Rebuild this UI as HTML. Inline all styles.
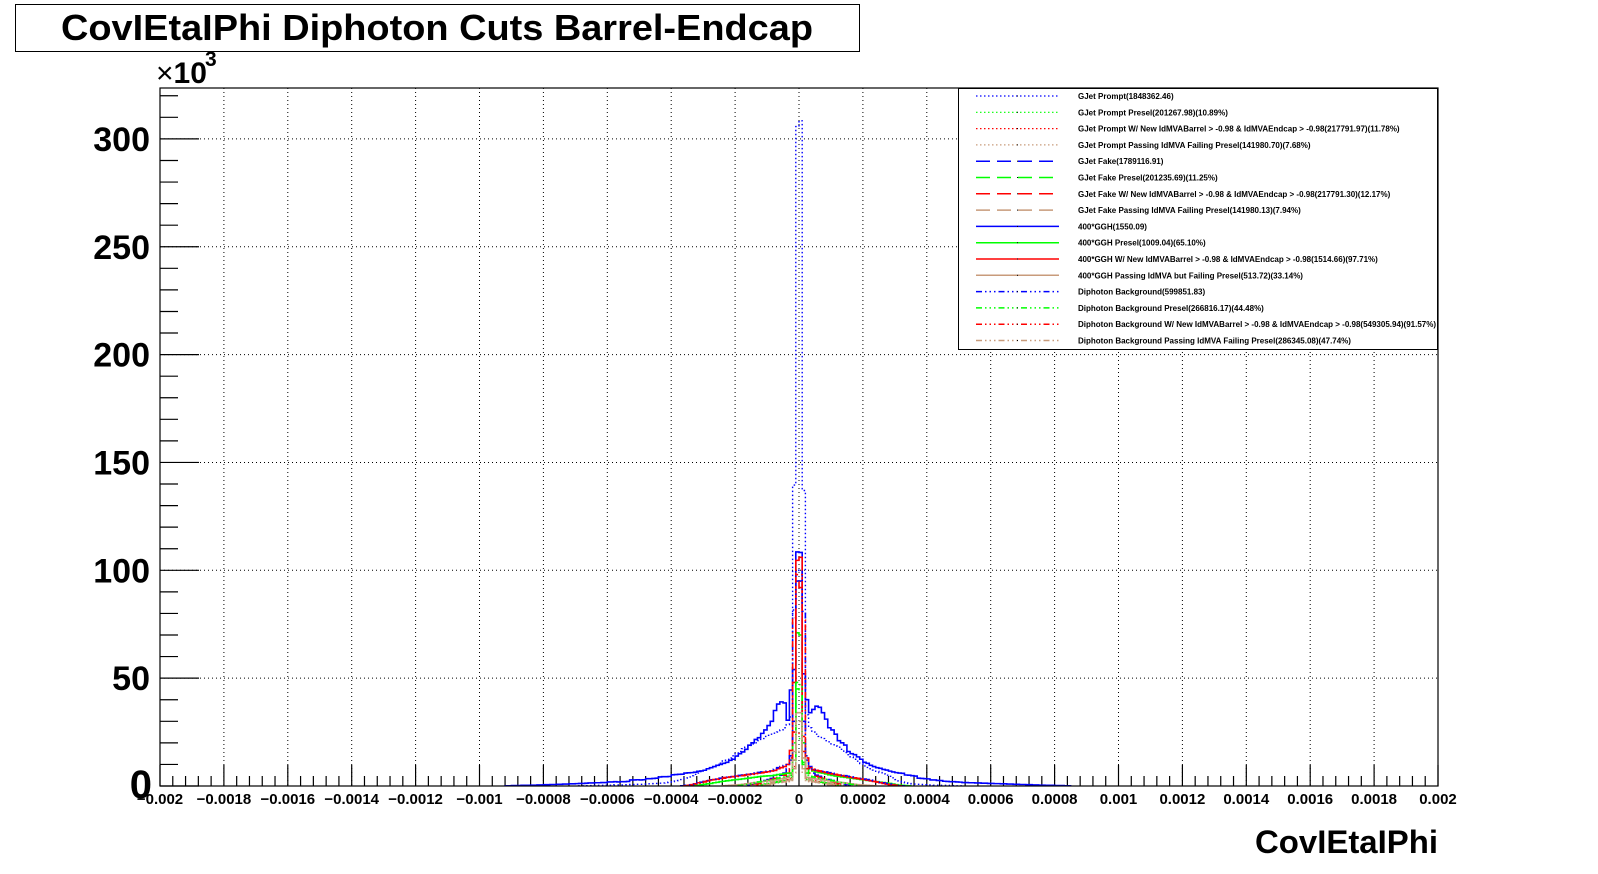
<!DOCTYPE html>
<html><head><meta charset="utf-8"><style>
html,body{margin:0;padding:0;background:#fff;}
svg{display:block;font-family:"Liberation Sans",Arial,sans-serif;}
</style></head><body>
<svg id="chart" width="1598" height="874" viewBox="0 0 1598 874" xmlns="http://www.w3.org/2000/svg">
<rect x="0" y="0" width="1598" height="874" fill="#fff"/>
<g>
<rect x="15.5" y="4.5" width="844" height="47" fill="#fff" stroke="#000" stroke-width="1"/>
<text x="437" y="40" text-anchor="middle" font-size="36" font-weight="bold" textLength="752" lengthAdjust="spacingAndGlyphs">CovIEtaIPhi Diphoton Cuts Barrel-Endcap</text>
</g>
<g id="grid"></g>
<g id="axes"></g>
<defs><clipPath id="plotclip"><rect x="160" y="88" width="1278" height="698"/></clipPath></defs>
<g id="series" clip-path="url(#plotclip)"></g>
<rect x="160" y="88" width="1278" height="698" fill="none" stroke="#000" stroke-width="1.2"/>
<g>
<text x="156" y="83" font-size="30" font-weight="bold"><tspan font-weight="normal">×</tspan>10</text>
<text x="205" y="66" font-size="21" font-weight="bold">3</text>
</g>
<text x="1438" y="853" text-anchor="end" font-size="32" font-weight="bold" textLength="183" lengthAdjust="spacingAndGlyphs">CovIEtaIPhi</text>
<g id="legend"></g>
</svg>
<script>
// ---- axis data ----
const xTicks = [-0.002,-0.0018,-0.0016,-0.0014,-0.0012,-0.001,-0.0008,-0.0006,-0.0004,-0.0002,0,0.0002,0.0004,0.0006,0.0008,0.001,0.0012,0.0014,0.0016,0.0018,0.002];
const xTickLabels = ["\u22120.002","\u22120.0018","\u22120.0016","\u22120.0014","\u22120.0012","\u22120.001","\u22120.0008","\u22120.0006","\u22120.0004","\u22120.0002","0","0.0002","0.0004","0.0006","0.0008","0.001","0.0012","0.0014","0.0016","0.0018","0.002"];
const yTicks = [0,50,100,150,200,250,300];
const yTickLabels = ["0","50","100","150","200","250","300"];
const binWidth = 0.00001;
// ---- series values (thousands), L = bins going left from 0 (bin -1, -2, ...), R = bins going right (bin 0, 1, ...) ----
const promptL = [305.7,139.5,32,28.5,27,26,25,24.5,24,23.5,23,22,21,20,19.5,18.8,18,17.3,16,15,14,13,12.3,11.6,10.6,9.6,9,8.5,8,7.3,6.7,6,5.4,4.8,4.2,3.6,3,2.6,2.3,2,1.8,1.6,1.4,1.3,1.2,1.1,1,1,0.9,0.8,0.8,0.7,0.7,0.6,0.6,0.5,0.5,0.5,0.4,0.4,0.4,0.3,0.3,0.3,0.2,0.2,0.2,0.1,0.1];
const promptR = [308.4,137,33,27,25,24,23,22,21,20.5,19.5,18.5,18,17,15.5,14.5,13.5,12.4,11.5,10.4,9.3,8.6,8.0,7.4,6.8,6.2,5.6,5.0,4.5,3.8,3.0,2.3,1.8,1.5,1.2,1.0,0.9,0.8,0.7,0.6,0.5,0.5,0.4,0.4,0.3,0.3,0.3,0.2,0.2,0.1,0.1];
const promptPreselL = [22,8,3,2.5,2.3,2,1.8,1.6,1.4,1.2,1,0.8,0.5,0.3];
const promptPreselR = [22,8,3,2.5,2.3,2,1.8,1.6,1.4,1.2,1,0.8,0.5,0.3];
const promptNewL = [25,9,3.5,3,2.7,2.4,2,1.7,1.4,1.1,0.8,0.5,0.3];
const promptNewR = [24,9,3.5,3,2.7,2.4,2,1.7,1.4,1.1,0.8,0.5,0.3];
const promptFailL = [16,6,2.5,2,1.8,1.6,1.4,1.2,1,0.8,0.5,0.3];
const promptFailR = [16,6,2.5,2,1.8,1.6,1.4,1.2,1,0.8,0.5,0.3];
const fakeL = [95,30,12,8,6,5,4.5,4,3.5,3,2.5,2,1.5,1,0.6,0.3];
const fakeR = [95,30,12,8,6,5,4.5,4,3.5,3,2.5,2,1.5,1,0.6,0.3];
const fakePreselL = [45,10,4,3,2.5,2.2,2,1.7,1.4,1.1,0.8,0.5,0.3];
const fakePreselR = [44,10,4,3,2.5,2.2,2,1.7,1.4,1.1,0.8,0.5,0.3];
const fakeNewL = [94.7,25,8,6,5,4.5,4,3.5,3,2.5,2,1.5,1,0.6,0.3];
const fakeNewR = [92,23,8,6,5,4.5,4,3.5,3,2.5,2,1.5,1,0.6,0.3];
const fakeFailL = [30,8,3,2.5,2,1.8,1.5,1.2,1,0.6,0.3];
const fakeFailR = [30,8,3,2.5,2,1.8,1.5,1.2,1,0.6,0.3];
const gghL = [108.5,54,44.5,30.5,38.5,39,38,35,30,28,26,24.4,22.4,21.6,20,18.9,17,15.8,15,13.9,12.4,11.9,11,10.5,10,9.6,9,8.5,8,7.3,7,6.8,6.4,6.2,6.1,6.0,5.5,5.4,5.3,5.2,4.4,4.3,4.3,4.2,3.6,3.5,3.4,3.4,2.9,2.8,2.9,2.8,2.8,2.1,2.0,2.0,1.9,2.0,1.9,1.9,1.6,1.6,1.5,1.5,1.4,1.4,1.3,1.2,1.2,1.1,1.0,1.0,0.9,0.9,0.8,0.8,0.7,0.7,0.6,0.6,0.5,0.5,0.4,0.4,0.3,0.3,0.3,0.2,0.2,0.2,0.1,0.1];
const gghR = [108.3,52,40,34,35.5,37,36.5,34,31,27,26,24,21,20,19,16,15,14.5,13.5,12.4,11,10.5,9.6,9,8.5,8.2,7.7,7.4,6.9,6.5,6.2,6,5.9,5.1,5.0,4.8,4.6,3.6,3.5,3.4,3.3,2.8,2.8,2.6,2.5,2.2,2.1,2.0,2.0,1.9,1.8,1.6,1.6,1.5,1.5,1.4,1.4,1.3,1.3,1.2,1.2,1.1,1.1,1.0,1.0,0.9,0.9,0.8,0.8,0.7,0.7,0.6,0.6,0.5,0.5,0.4,0.4,0.3,0.3,0.3,0.2,0.2,0.2,0.1,0.1];
const gghPreselL = [71,12,6,5.9,5.7,5.5,5.3,5,4.8,4.7,4.6,4.5,4.3,4.1,3.9,3.7,3.5,3.3,3.1,3,2.8,2.6,2.4,2.2,2,1.7,1.5,1.2,1,0.8,0.6,0.4,0.3,0.2,0.1];
const gghPreselR = [70,11,6,8.5,7,6.5,6.2,6,5.6,5.2,4.9,4.6,4.4,4.2,4,3.8,3.6,3.4,3.2,3,2.8,2.6,2.4,2.2,2,1.8,1.6,1.4,1.2,0.9,0.6,0.4,0.3,0.2,0.1];
const gghNewL = [104.6,48,16.5,10,9,8.5,8,7.2,7,6.6,6.4,6.2,6,5.8,5.6,5.4,5.2,5,4.8,4.6,4.4,4.2,4,3.9,3.5,3.2,3,2.8,2.4,2,1.7,1.5,1,0.6,0.3,0.1];
const gghNewR = [106,16,8,8.5,7.5,7.2,6.8,6.5,6.2,5.9,5.6,5.3,5,4.7,4.5,4.2,4,3.7,3.5,3.2,3,2.7,2.4,2.1,1.8,1.5,1.2,0.9,0.6,0.4,0.2,0.1];
const gghFailL = [34,16,5,3.9,3.6,3.3,3,2.8,2.6,2.4,2.2,2,1.8,1.6,1.4,1.2,1,0.8,0.6,0.5,0.4,0.3,0.2,0.1];
const gghFailR = [34,13,4,3.8,3.5,3.2,3,2.8,2.6,2.4,2.2,2,1.8,1.6,1.4,1.2,1,0.8,0.6,0.5,0.4,0.3,0.2,0.1];
const diphoL = [100,81.6,14,10.5,9.5,9,8.5,7.8,7.4,7,6.8,6.5,6.3,6.1,5.9,5.6,5.4,5.1,4.9,4.7,4.5,4.3,4.1,3.9,3.6,3.3,3.1,2.9,2.5,2.1,1.8,1.6,1.2,0.8,0.5,0.3,0.1];
const diphoR = [100,81,14,9,8,7.5,7.1,6.8,6.5,6.2,5.9,5.6,5.3,5,4.8,4.5,4.2,4,3.7,3.5,3.2,3,2.7,2.4,2.1,1.8,1.5,1.2,0.9,0.6,0.4,0.2,0.1];
const diphoPreselL = [48,20,5,4.5,4.2,4,3.7,3.4,3.1,2.8,2.5,2.2,1.9,1.6,1.3,1,0.7,0.4,0.2];
const diphoPreselR = [47,20,5,4.5,4.2,4,3.7,3.4,3.1,2.8,2.5,2.2,1.9,1.6,1.3,1,0.7,0.4,0.2];
const diphoNewL = [98,78,13,10,9,8.5,8,7.4,7,6.7,6.4,6.1,5.9,5.7,5.4,5.2,5,4.8,4.6,4.4,4.2,4,3.8,3.6,3.3,3.1,2.9,2.6,2.2,1.9,1.6,1.3,0.9,0.6,0.3,0.1];
const diphoNewR = [98,77,13,8.5,7.8,7.3,7,6.6,6.3,6,5.7,5.4,5.1,4.9,4.6,4.3,4,3.8,3.5,3.3,3,2.8,2.5,2.2,1.9,1.6,1.3,1,0.7,0.5,0.3,0.1];
const diphoFailL = [30,12,3,2.8,2.6,2.4,2.2,2,1.8,1.5,1.2,0.9,0.6,0.3,0.1];
const diphoFailR = [30,12,3,2.8,2.6,2.4,2.2,2,1.8,1.5,1.2,0.9,0.6,0.3,0.1];
const legendLabels = [
"GJet Prompt(1848362.46)",
"GJet Prompt Presel(201267.98)(10.89%)",
"GJet Prompt W/ New IdMVABarrel > -0.98 & IdMVAEndcap > -0.98(217791.97)(11.78%)",
"GJet Prompt Passing IdMVA Failing Presel(141980.70)(7.68%)",
"GJet Fake(1789116.91)",
"GJet Fake Presel(201235.69)(11.25%)",
"GJet Fake W/ New IdMVABarrel > -0.98 & IdMVAEndcap > -0.98(217791.30)(12.17%)",
"GJet Fake Passing IdMVA Failing Presel(141980.13)(7.94%)",
"400*GGH(1550.09)",
"400*GGH Presel(1009.04)(65.10%)",
"400*GGH W/ New IdMVABarrel > -0.98 & IdMVAEndcap > -0.98(1514.66)(97.71%)",
"400*GGH Passing IdMVA but Failing Presel(513.72)(33.14%)",
"Diphoton Background(599851.83)",
"Diphoton Background Presel(266816.17)(44.48%)",
"Diphoton Background W/ New IdMVABarrel > -0.98 & IdMVAEndcap > -0.98(549305.94)(91.57%)",
"Diphoton Background Passing IdMVA Failing Presel(286345.08)(47.74%)"];

const NS = "http://www.w3.org/2000/svg";
const X0=160, X1=1438, Y0=786, Y1=88, XMIN=-0.002, XMAX=0.002, YMAX=323.6;
function xs(v){return X0+(v-XMIN)/(XMAX-XMIN)*(X1-X0);}
function ys(v){return Y0-v/YMAX*(Y0-Y1);}
function mk(tag, attrs, parent){const e=document.createElementNS(NS,tag);for(const k in attrs)e.setAttribute(k,attrs[k]);parent.appendChild(e);return e;}

const BLUE="#0000ff", GREEN="#00ff00", RED="#ff0000", BROWN="#c89b7b";
const DOT="1.5,2.5", DASH="14,7", DASHDOT="6,3,1.5,3,1.5,3,1.5,3";
const seriesDefs = [
 [promptL,promptR,BLUE,DOT,"gjet-prompt"],
 [promptPreselL,promptPreselR,GREEN,DOT,"gjet-prompt-presel"],
 [promptNewL,promptNewR,RED,DOT,"gjet-prompt-new-idmva"],
 [promptFailL,promptFailR,BROWN,DOT,"gjet-prompt-failing-presel"],
 [fakeL,fakeR,BLUE,DASH,"gjet-fake"],
 [fakePreselL,fakePreselR,GREEN,DASH,"gjet-fake-presel"],
 [fakeNewL,fakeNewR,RED,DASH,"gjet-fake-new-idmva"],
 [fakeFailL,fakeFailR,BROWN,DASH,"gjet-fake-failing-presel"],
 [gghL,gghR,BLUE,"","ggh"],
 [gghPreselL,gghPreselR,GREEN,"","ggh-presel"],
 [gghNewL,gghNewR,RED,"","ggh-new-idmva"],
 [gghFailL,gghFailR,BROWN,"","ggh-failing-presel"],
 [diphoL,diphoR,BLUE,DASHDOT,"diphoton-background"],
 [diphoPreselL,diphoPreselR,GREEN,DASHDOT,"diphoton-presel"],
 [diphoNewL,diphoNewR,RED,DASHDOT,"diphoton-new-idmva"],
 [diphoFailL,diphoFailR,BROWN,DASHDOT,"diphoton-failing-presel"]];

// grid
const grid=document.getElementById('grid');
xTicks.forEach(v=>{const l=mk('line',{x1:xs(v),x2:xs(v),y1:Y1,y2:Y0,stroke:'#000','stroke-width':1,'stroke-dasharray':'1,3'},grid);

});
yTicks.forEach(v=>{if(v===0)return;const l=mk('line',{x1:X0,x2:X1,y1:ys(v),y2:ys(v),stroke:'#000','stroke-width':1,'stroke-dasharray':'1,3'},grid);

});

// axes ticks & labels
const axes=document.getElementById('axes');
for(let i=0;i<xTicks.length;i++){
 const v=xTicks[i];
 const t=mk('line',{x1:xs(v),x2:xs(v),y1:Y0,y2:Y0-21,stroke:'#000','stroke-width':1.2},axes);
 
 
 if(i<xTicks.length-1){for(let j=1;j<5;j++){const m=v+j*(xTicks[i+1]-v)/5;
  const mt=mk('line',{x1:xs(m),x2:xs(m),y1:Y0,y2:Y0-10,stroke:'#000','stroke-width':1.2},axes);
  
  }}
 const tx=mk('text',{x:xs(v),y:804,'text-anchor':'middle','font-size':15,'font-weight':'bold'},axes);
 tx.textContent=xTickLabels[i];
 
 
}
for(let i=0;i<yTicks.length;i++){
 const v=yTicks[i];
 const t=mk('line',{x1:X0,x2:X0+39,y1:ys(v),y2:ys(v),stroke:'#000','stroke-width':1.2},axes);
 
 
 for(let j=1;j<5;j++){const m=v+j*10; if(m>YMAX)break;
  const mt=mk('line',{x1:X0,x2:X0+18,y1:ys(m),y2:ys(m),stroke:'#000','stroke-width':1.2},axes);
  
  }
 const tx=mk('text',{x:v===0?152:150,y:ys(v)+12,'text-anchor':'end','font-size':v===0?40:34,'font-weight':'bold'},axes);
 tx.textContent=yTickLabels[i];
 
 
}

// histograms
const sg=document.getElementById('series');
seriesDefs.forEach(s=>{
 const L=s[0], R=s[1];
 const nL=L.length, nR=R.length;
 let d='M'+xs(-nL*binWidth).toFixed(2)+','+ys(0).toFixed(2);
 for(let k=-nL;k<nR;k++){
  const val = k<0 ? L[-k-1] : R[k];
  const xa=xs(k*binWidth), xb=xs((k+1)*binWidth), y=ys(val);
  d+=' L'+xa.toFixed(2)+','+y.toFixed(2)+' L'+xb.toFixed(2)+','+y.toFixed(2);
 }
 d+=' L'+xs(nR*binWidth).toFixed(2)+','+ys(0).toFixed(2);
 const p=mk('path',{d:d,fill:'none',stroke:s[2],'stroke-width':s[3]===DOT?1.4:1.6},sg);
 if(s[3])p.setAttribute('stroke-dasharray',s[3]);
 
 
});

// legend
const lg=document.getElementById('legend');
const box=mk('rect',{x:958.5,y:88.5,width:479,height:261,fill:'#fff',stroke:'#000','stroke-width':1},lg);


seriesDefs.forEach((s,i)=>{
 const y=96+i*16.3;
 const g=mk('g',{},lg);
 
 
 const ln=mk('line',{x1:976,x2:1059,y1:y,y2:y,stroke:s[2],'stroke-width':s[3]===DOT?1.2:1.5},g);
 if(s[3])ln.setAttribute('stroke-dasharray',s[3]);
 
 
 const dt=mk('rect',{x:1017,y:y-0.5,width:1,height:1,fill:'#000'},g);
 
 
 const tx=mk('text',{x:1078,y:y+3,'font-size':8,'font-weight':'bold'},g);
 tx.textContent=legendLabels[i];
 
 
});
</script>
</body></html>
